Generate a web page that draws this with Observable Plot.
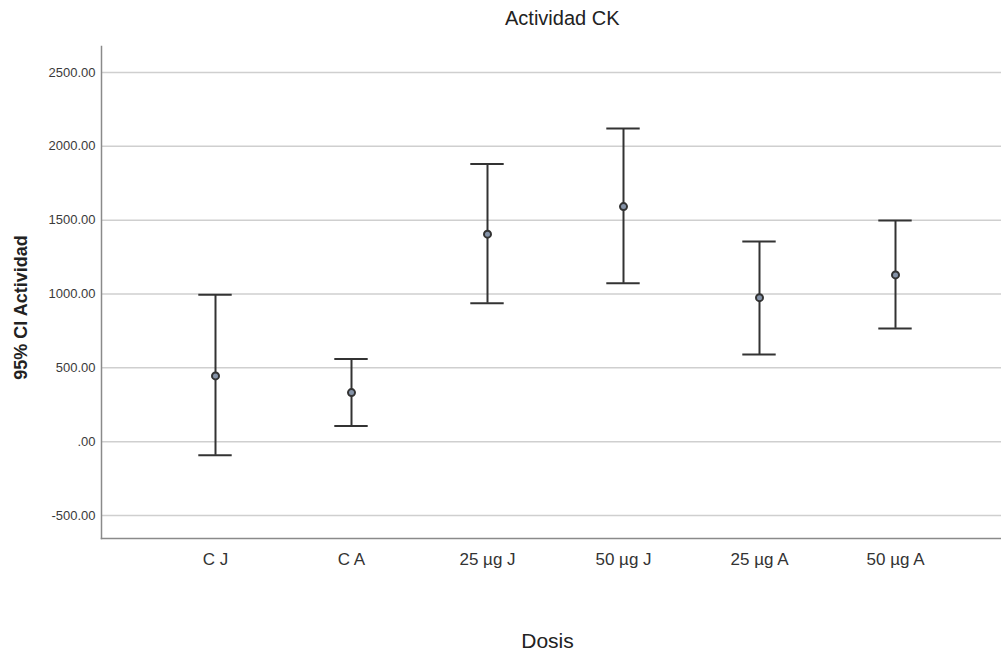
<!DOCTYPE html>
<html>
<head>
<meta charset="utf-8">
<script src="https://cdn.jsdelivr.net/npm/d3@7"></script>
<script src="https://cdn.jsdelivr.net/npm/@observablehq/plot@0.6"></script>
<style>
  html, body { margin: 0; padding: 0; background: #fff; }
  #wrap { width: 1001px; height: 655px; position: relative; overflow: hidden; font-family: "Liberation Sans", Arial, sans-serif; }
  #title { height: 36px; line-height: 36px; font-size: 20px; color: #222; text-align: left; padding-left: 505px; box-sizing: border-box; }
</style>
</head>
<body>
<div id="wrap">
  <div id="title">Actividad CK</div>
  <div id="chart"></div>
</div>
<script>
const dosis = ["C J", "C A", "25 µg J", "50 µg J", "25 µg A", "50 µg A"];
const mean  = [445, 332, 1405, 1592, 975, 1129];
const lower = [-93, 106, 937, 1072, 590, 767];
const upper = [995, 559, 1880, 2120, 1355, 1497];
const yTicks = [-500, 0, 500, 1000, 1500, 2000, 2500];
const yLabel = "95% CI Actividad";
const xLabel = "Dosis";

const data = dosis.map((d, i) => ({dosis: d, mean: mean[i], lower: lower[i], upper: upper[i]}));
const fmt = v => v === 0 ? ".00" : v.toFixed(2);

const chart = Plot.plot({
  width: 1001,
  height: 619,
  marginLeft: 101,
  marginRight: 0,
  marginTop: 10,
  marginBottom: 117,
  style: {fontFamily: "'Liberation Sans', Arial, sans-serif", fontSize: "13px", color: "#333", background: "white"},
  x: {type: "band", domain: dosis, paddingInner: 0, paddingOuter: 0.2944, align: 0.545},
  y: {domain: [-656, 2676]},
  marks: [
    Plot.gridY(yTicks, {stroke: "#cfcfcf", strokeOpacity: 1, strokeWidth: 1.5}),
    Plot.frame({anchor: "left", stroke: "#8a8a8a", strokeWidth: 1.5}),
    Plot.frame({anchor: "bottom", stroke: "#8a8a8a", strokeWidth: 1.5}),
    Plot.axisY(yTicks, {tickSize: 0, tickPadding: 6, tickFormat: fmt, fontSize: 13, label: null, fill: "#3a3a3a"}),
    Plot.axisX({tickSize: 0, tickPadding: 14, fontSize: 17, label: null, fill: "#333"}),
    Plot.text([yLabel], {frameAnchor: "left", dx: -80, dy: 15, rotate: -90, fontWeight: "bold", fontSize: 18, fill: "#222", textAnchor: "middle", lineAnchor: "middle"}),
    Plot.text([xLabel], {frameAnchor: "bottom", dx: -4, dy: 103, fontSize: 21, fill: "#222", textAnchor: "middle", lineAnchor: "middle"}),
    Plot.ruleX(data, {x: "dosis", y1: "lower", y2: "upper", stroke: "#333", strokeWidth: 2}),
    Plot.tickY(data, {x: "dosis", y: "upper", stroke: "#333", strokeWidth: 2, insetLeft: 51.3, insetRight: 51.3}),
    Plot.tickY(data, {x: "dosis", y: "lower", stroke: "#333", strokeWidth: 2, insetLeft: 51.3, insetRight: 51.3}),
    Plot.dot(data, {x: "dosis", y: "mean", r: 3.5, fill: "#8593a8", stroke: "#333", strokeWidth: 2})
  ]
});
document.getElementById("chart").appendChild(chart);
</script>
</body>
</html>
